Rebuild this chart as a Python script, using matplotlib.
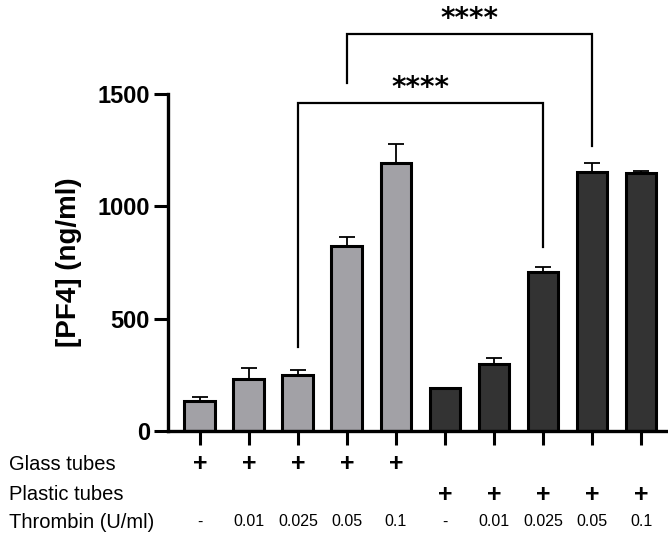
import numpy as np
from matplotlib import pyplot as plt
from matplotlib.transforms import blended_transform_factory

plt.rcParams['font.family'] = ['Liberation Sans', 'DejaVu Sans']

# PF4 release, glass vs plastic tubes
means = [133, 231, 249, 825, 1191, 190, 298, 706, 1154, 1148]
err_up = [18, 48, 24, 38, 86, 0, 28, 24, 40, 8]
glass = [1, 1, 1, 1, 1, 0, 0, 0, 0, 0]
plastic = [0, 0, 0, 0, 0, 1, 1, 1, 1, 1]
thrombin = ['-', '0.01', '0.025', '0.05', '0.1', '-', '0.01', '0.025', '0.05', '0.1']
yticks = [0, 500, 1000, 1500]
# (left bar, right bar, top, left leg bottom, right leg bottom, text)
brackets = [(2, 7, 1460, 372, 820, '****'),
            (3, 8, 1766, 1548, 1267, '****')]

fig = plt.figure(figsize=(6.68, 5.37), dpi=100)
ax = fig.add_axes([0.2515, 0.1974, 0.7485, 0.6276])

x = np.arange(len(means))
colors = ['#a2a1a6' if g else '#333333' for g in glass]
ax.bar(x, means, width=0.63, color=colors, edgecolor='black', linewidth=2.2, zorder=2)
ax.errorbar(x, means, yerr=[np.zeros(len(means)), err_up], fmt='none',
            ecolor='black', elinewidth=1.3, capsize=6, capthick=1.3, zorder=1)

ax.set_xlim(-0.65, 9.55)
ax.set_ylim(0, 1500)
ax.set_yticks(yticks)
ax.set_yticklabels([str(v) for v in yticks], fontsize=17, fontweight='bold')
ax.set_xticks(x)
ax.set_xticklabels([])
ax.tick_params(axis='both', length=10, width=2.2, direction='out')
ax.tick_params(axis='y', pad=3)
ax.spines['top'].set_visible(False)
ax.spines['right'].set_visible(False)
ax.spines['left'].set_linewidth(2.4)
ax.spines['bottom'].set_linewidth(2.4)
ax.set_ylabel('[PF4] (ng/ml)', fontsize=20, fontweight='bold', labelpad=11)

for a, b, top, la, lb, txt in brackets:
    ax.plot([a, a, b, b], [la, top, top, lb], color='black', lw=1.6,
            clip_on=False, solid_joinstyle='miter')
    ax.text((a + b) / 2, top + 30, txt, ha='center', va='baseline',
            fontsize=20, fontweight='bold', family='DejaVu Sans', clip_on=False)

tr = blended_transform_factory(ax.transData, fig.transFigure)
rows = [('Glass tubes', 1 - 464 / 537), ('Plastic tubes', 1 - 495 / 537),
        ('Thrombin (U/ml)', 1 - 522 / 537)]
for name, yy in rows:
    fig.text(9 / 668, yy, name, ha='left', va='center', fontsize=14.5)
for i in x:
    if glass[i]:
        ax.text(i, rows[0][1], '+', transform=tr, ha='center', va='center',
                fontsize=18, fontweight='bold')
    if plastic[i]:
        ax.text(i, rows[1][1], '+', transform=tr, ha='center', va='center',
                fontsize=18, fontweight='bold')
    ax.text(i, rows[2][1], thrombin[i], transform=tr, ha='center', va='center',
            fontsize=11.5)

fig.savefig('out.png', dpi=100)
